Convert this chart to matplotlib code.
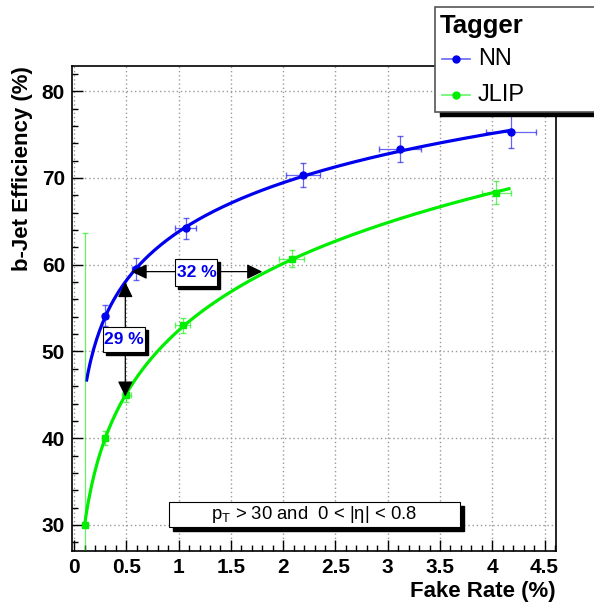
import numpy as np
import matplotlib
matplotlib.use("Agg")
import matplotlib.pyplot as plt
from matplotlib.patches import Rectangle
from matplotlib.lines import Line2D
import matplotlib.transforms as mtransforms

# ---- data ----
nn_x = [0.30, 0.59, 1.07, 2.19, 3.12, 4.18]
nn_y = [54.1, 59.5, 64.2, 70.3, 73.3, 75.3]
nn_xerr = [0.02, 0.04, 0.10, 0.16, 0.20, 0.24]
nn_yerr = [1.2, 1.3, 1.2, 1.4, 1.5, 1.9]

jlip_x = [0.10, 0.30, 0.50, 1.04, 2.08, 4.04]
jlip_y = [30.0, 40.0, 45.0, 53.0, 60.7, 68.3]
jlip_xerr = [0.01, 0.02, 0.04, 0.07, 0.12, 0.14]
jlip_yerr = [33.6, 0.8, 0.8, 0.9, 1.0, 1.3]

nn_range = [0.12, 4.18]
jlip_range = [0.10, 4.16]

blue = "#0000ee"
green = "#00ee00"

plt.rcParams['font.family'] = ['Liberation Sans', 'DejaVu Sans']

fig = plt.figure(figsize=(5.94, 6.08), dpi=100)
ax = fig.add_axes([72/594, 1-551/608, (556-72)/594, (551-66)/608])
ax.set_xlim(-0.02, 4.61)
ax.set_ylim(27, 82.9)

# fitted curves (quadratic in log x)
def fit_curve(x, y, rng):
    c = np.polyfit(np.log(x), y, 2)
    xs = np.linspace(rng[0], rng[1], 300)
    return xs, np.polyval(c, np.log(xs))

xs, ys = fit_curve(nn_x, nn_y, nn_range)
ax.plot(xs, ys, color=blue, lw=2.3, zorder=4)
xs, ys = fit_curve(jlip_x, jlip_y, jlip_range)
ax.plot(xs, ys, color=green, lw=2.3, zorder=4)

eb = ax.errorbar(nn_x, nn_y, xerr=nn_xerr, yerr=nn_yerr, fmt='o', color=blue,
                 ms=5, ecolor=(0, 0, 0.93, 0.6), elinewidth=0.9, capsize=2, zorder=5)
eb = ax.errorbar(jlip_x, jlip_y, xerr=jlip_xerr, yerr=jlip_yerr, fmt='s', color=green,
                 ms=5, ecolor=(0, 0.93, 0, 0.6), elinewidth=0.9, capsize=2, zorder=5)

# ticks
ax.set_xticks(np.arange(0, 4.51, 0.5))
ax.set_xticklabels(['0', '0.5', '1', '1.5', '2', '2.5', '3', '3.5', '4', '4.5'])
ax.set_xticks(np.arange(0, 4.61, 0.1), minor=True)
ax.set_yticks([30, 40, 50, 60, 70, 80])
ax.set_yticks(np.arange(28, 83, 2), minor=True)
ax.tick_params(which='both', direction='in', top=False, right=False)
ax.tick_params(which='major', length=8, width=1, labelsize=15, pad=5)
ax.tick_params(which='minor', length=4, width=1)
for lab in ax.get_xticklabels() + ax.get_yticklabels():
    lab.set_fontweight('bold')
ax.grid(True, which='major', linestyle=(0, (1, 2)), color='#999999', lw=1)
for s in ax.spines.values():
    s.set_linewidth(1.2)

ax.set_xlabel('Fake Rate (%)', fontsize=16, fontweight='bold', loc='right', labelpad=3)
ax.set_ylabel('b-Jet Efficiency (%)', fontsize=16, fontweight='bold', loc='top', labelpad=6)

# arrows
aprops = dict(arrowstyle='<|-|>,head_length=0.47,head_width=0.23',
              color='black', lw=0.9, mutation_scale=20, shrinkA=0, shrinkB=0)
ax.annotate('', xy=(0.55, 59.2), xytext=(1.80, 59.2), arrowprops=aprops, zorder=6)
ax.annotate('', xy=(0.49, 58.0), xytext=(0.49, 44.8), arrowprops=aprops, zorder=6)

def shadow_box(x0, x1, y0, y1, dx=4, dy=4):
    off = mtransforms.offset_copy(ax.transData, fig=fig, x=dx, y=-dy, units='dots')
    ax.add_patch(Rectangle((x0, y0), x1 - x0, y1 - y0, transform=off,
                           fc='black', ec='black', zorder=7))
    ax.add_patch(Rectangle((x0, y0), x1 - x0, y1 - y0, fc='white', ec='black',
                           lw=0.8, zorder=8))

shadow_box(0.97, 1.37, 57.6, 60.6, 3, 3)
ax.text(1.17, 59.1, '32 %', ha='center', va='center', fontsize=12.5, fontweight='bold',
        color=blue, zorder=9)
shadow_box(0.28, 0.68, 49.95, 52.85, 3, 3)
ax.text(0.48, 51.4, '29 %', ha='center', va='center', fontsize=12.5, fontweight='bold',
        color=blue, zorder=9)

# kinematic box
shadow_box(0.91, 3.69, 29.8, 32.65)
ax.text(2.30, 31.25, r'p$_{\mathregular{T}}$ > 30 and  0 < |η| < 0.8',
        ha='center', va='center', fontsize=13.3, zorder=9)

# legend (figure coords)
lx0, ly0, lx1, ly1 = 435/594, 1-112/608, 1.02, 1-7/608
fig.patches.append(Rectangle((lx0 + 5/594, ly0 - 4/608), lx1 - lx0, ly1 - ly0,
                             transform=fig.transFigure, fc='black', ec='black', zorder=10))
fig.patches.append(Rectangle((lx0, ly0), lx1 - lx0, ly1 - ly0, transform=fig.transFigure,
                             fc='white', ec='#555555', lw=1.2, zorder=11))
fig.text(440/594, 1-26/608, 'Tagger', fontsize=18.5, fontweight='bold', va='center', ha='left', zorder=12)
for yy, name, col, mk in [(59, 'NN', blue, 'o'), (95, 'JLIP', green, 'o')]:
    fig.lines.append(Line2D([442/594, 470/594], [1-yy/608, 1-yy/608], transform=fig.transFigure,
                            color=col, lw=1.2, alpha=0.6, zorder=12))
    fig.lines.append(Line2D([456/594], [1-yy/608], transform=fig.transFigure, color=col,
                            marker=mk, ms=5, zorder=13))
    fig.text(478/594, 1-yy/608, name, fontsize=17, va='center', ha='left', zorder=12)

fig.savefig('out.png', dpi=100)
